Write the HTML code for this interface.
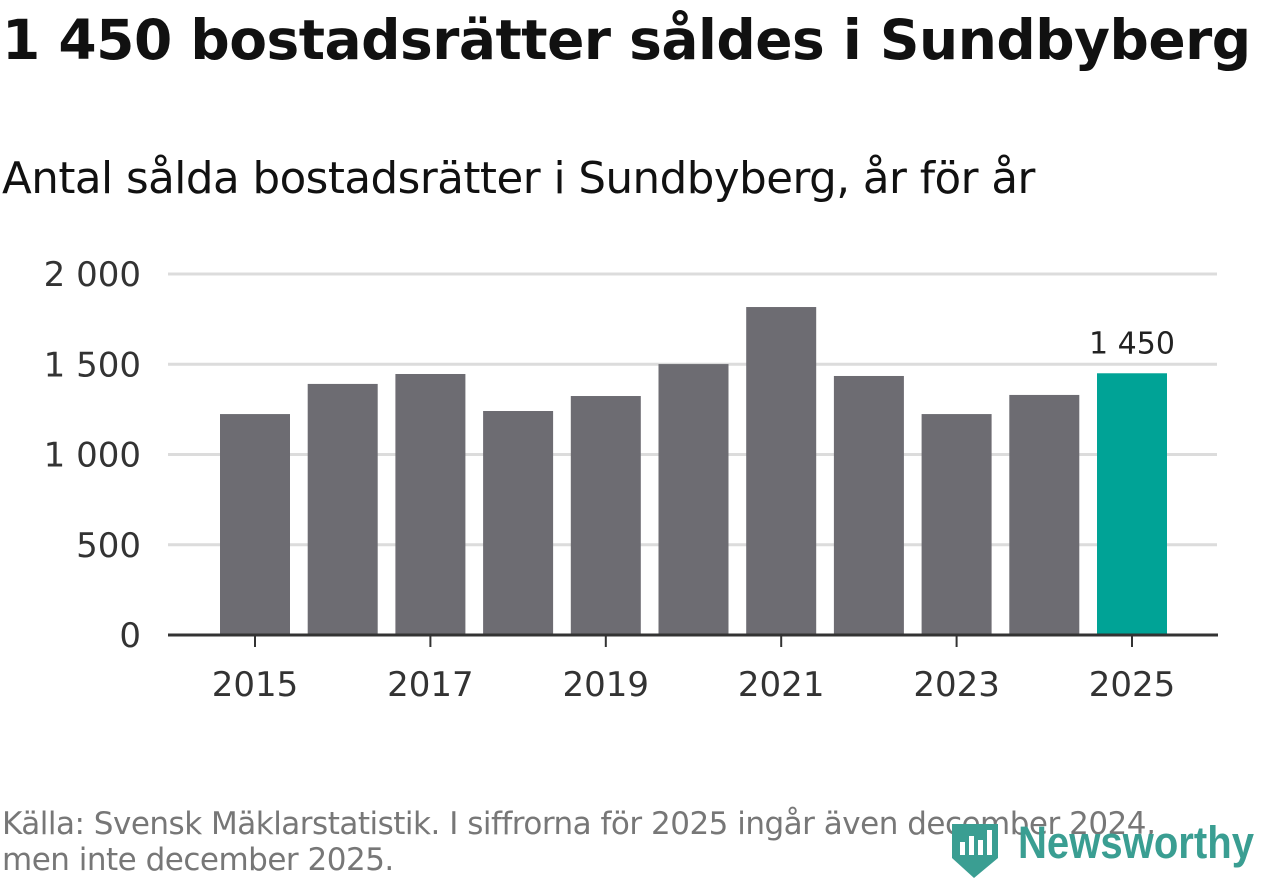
<!DOCTYPE html>
<html><head><meta charset="utf-8"><style>
body{margin:0;width:1262px;height:879px;background:#fff;font-family:"DejaVu Sans","Liberation Sans",sans-serif;overflow:hidden;position:relative}
#title{position:absolute;left:2px;top:8px;font-size:55px;font-weight:bold;color:#111;margin:0;white-space:nowrap;letter-spacing:-0.5px}
#sub{position:absolute;left:2px;top:154px;font-size:43.5px;color:#111;white-space:nowrap;letter-spacing:-0.5px}
#src{position:absolute;left:2px;top:806px;font-size:31px;color:#777;line-height:36px;letter-spacing:-0.5px;white-space:nowrap}
#logo{position:absolute;left:950px;top:816px}
svg{position:absolute;left:0;top:0}
</style></head><body>
<h1 id="title">1 450 bostadsrätter såldes i Sundbyberg</h1>
<div id="sub">Antal sålda bostadsrätter i Sundbyberg, år för år</div>
<svg id="chart" width="1262" height="879"></svg>
<div id="src">Källa: Svensk Mäklarstatistik. I siffrorna för 2025 ingår även december 2024,<br>men inte december 2025.</div>
<div id="logo">
<svg width="312" height="64" style="position:static">
<path d="M2 8 H48 V42 L24 62 L2 42 Z" fill="#3a9e92"/>
<rect x="10" y="26" width="5" height="13" fill="#fff"/><rect x="19" y="20" width="5" height="19" fill="#fff"/><rect x="28" y="24" width="5" height="15" fill="#fff"/><rect x="37" y="14" width="5" height="25" fill="#fff"/>
<text x="68" y="42" font-family="Liberation Sans, sans-serif" font-size="45" font-weight="bold" fill="#3a9e92" textLength="236" lengthAdjust="spacingAndGlyphs">Newsworthy</text>
</svg></div>
<script>
const years=[2015,2016,2017,2018,2019,2020,2021,2022,2023,2024,2025];
const values=[1224,1391,1446,1241,1324,1501,1817,1435,1224,1330,1450];
const yTicks=[0,500,1000,1500,2000];
const yTickLabels=["0","500","1 000","1 500","2 000"];
const xTickYears=[2015,2017,2019,2021,2023,2025];
const svg=document.getElementById('chart');const NS='http://www.w3.org/2000/svg';
const y=v=>635-v*(361/2000);
const x=yr=>255+(yr-2015)*87.7;
function mk(t,a){const e=document.createElementNS(NS,t);for(const k in a)e.setAttribute(k,a[k]);svg.appendChild(e);return e;}
yTicks.forEach((t,i)=>{
 if(t>0){const g=mk('line',{x1:168,x2:1217,y1:y(t),y2:y(t),stroke:'#dcdcdc','stroke-width':3});
 
 }
 const l=mk('text',{x:141,y:y(t)+12,'text-anchor':'end','font-size':34,fill:'#333'});l.textContent=yTickLabels[i];
 
 
});
years.forEach((yr,i)=>{
 const last=i===years.length-1;
 const r=mk('rect',{x:x(yr)-35,y:y(values[i]),width:70,height:635-y(values[i]),fill:last?'#00a396':'#6d6c72'});
 
 
 if(last){const t=mk('text',{x:x(yr),y:y(values[i])-20,'text-anchor':'middle','font-size':30,fill:'#222'});t.textContent=values[i].toLocaleString('sv-SE').replace(/\s/g,' ');
 
 }
});
const ax=mk('line',{x1:168,x2:1218,y1:635,y2:635,stroke:'#333','stroke-width':3});


xTickYears.forEach(yr=>{
 mk('line',{x1:x(yr),x2:x(yr),y1:635,y2:647,stroke:'#333','stroke-width':2});
 const t=mk('text',{x:x(yr),y:696,'text-anchor':'middle','font-size':34,fill:'#333'});t.textContent=yr;
 
 
});
</script>
</body></html>
